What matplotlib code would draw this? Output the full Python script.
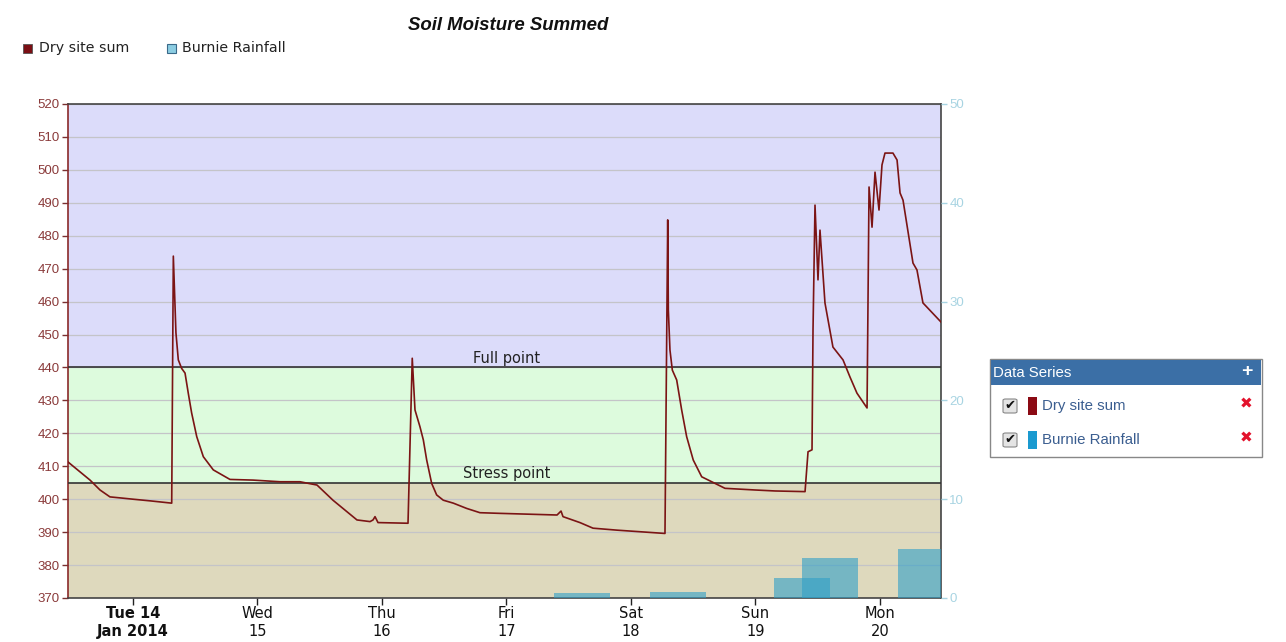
import matplotlib
matplotlib.use("Agg")
import matplotlib.pyplot as plt
from matplotlib.patches import Rectangle, FancyBboxPatch

plt.rcParams['font.family'] = ['Liberation Sans', 'DejaVu Sans']

# ---- data (time in days from Tue 14 Jan 2014 00:00) ----
moist_t = [-0.522, -0.345, -0.265, -0.185, -0.104, 0.000, 0.137, 0.311, 0.324, 0.345,
           0.364, 0.391, 0.418, 0.444, 0.471, 0.512, 0.565, 0.645, 0.779, 0.964,
           1.181, 1.341, 1.478, 1.606, 1.799, 1.904, 1.928, 1.944, 1.968, 2.209,
           2.243, 2.265, 2.305, 2.332, 2.359, 2.399, 2.439, 2.492, 2.573, 2.680,
           2.787, 2.948, 3.406, 3.438, 3.454, 3.590, 3.695, 3.888, 4.273, 4.295,
           4.300, 4.313, 4.332, 4.367, 4.407, 4.447, 4.500, 4.568, 4.675, 4.755,
           4.996, 5.157, 5.398, 5.422, 5.454, 5.462, 5.478, 5.502, 5.518, 5.558,
           5.622, 5.703, 5.759, 5.815, 5.896, 5.912, 5.936, 5.960, 5.992, 6.016,
           6.040, 6.104, 6.137, 6.161, 6.185, 6.265, 6.297, 6.345, 6.490]
moist_v = [411.3, 405.8, 402.8, 400.7, 400.4, 400.0, 399.5, 398.8, 473.8, 450.5,
           442.3, 439.7, 438.3, 432.2, 426.2, 419.0, 412.9, 408.9, 406.0, 405.8,
           405.3, 405.3, 404.3, 399.7, 393.7, 393.2, 393.7, 394.7, 392.9, 392.7,
           442.8, 427.1, 422.0, 418.0, 411.9, 404.8, 401.3, 399.7, 398.8, 397.2,
           395.9, 395.7, 395.2, 396.4, 394.7, 392.9, 391.2, 390.6, 389.6, 484.8,
           457.4, 445.3, 439.2, 436.2, 427.1, 419.0, 411.9, 406.8, 404.8, 403.3,
           402.8, 402.5, 402.3, 414.4, 415.0, 451.4, 489.3, 466.6, 481.7, 459.6,
           446.2, 442.3, 437.1, 432.2, 427.7, 494.8, 482.6, 499.3, 487.8, 501.5,
           505.1, 505.1, 503.0, 493.0, 490.8, 471.7, 469.6, 459.6, 453.8]

rain_t = [3.61, 4.38, 5.37, 5.60, 6.37]
rain_v = [0.5, 0.6, 2.0, 4.0, 5.0]

tick_days = [0, 1, 2, 3, 4, 5, 6]
tick_labels = ["Tue 14\nJan 2014", "Wed\n15", "Thu\n16", "Fri\n17", "Sat\n18", "Sun\n19", "Mon\n20"]

full_point = 440
stress_point = 405

W, H = 1286, 642
fig = plt.figure(figsize=(W / 100, H / 100), dpi=100)
fig.patch.set_facecolor('white')

def fx(px):
    return px / W

def fy(py):
    return 1 - py / H

ax = fig.add_axes([fx(68), fy(598), fx(941) - fx(68), fy(104) - fy(598)])
ax.set_xlim(-0.522, 6.49)
ax.set_ylim(370, 520)

# background bands
ax.axhspan(full_point, 520, color='#dcdcfa', zorder=0, lw=0)
ax.axhspan(stress_point, full_point, color='#ddfbdd', zorder=0, lw=0)
ax.axhspan(370, stress_point, color='#ded9bd', zorder=0, lw=0)

ax.set_yticks(range(370, 521, 10))
ax.grid(axis='y', color='#c4c4c8', lw=0.9, zorder=1)
ax.set_axisbelow(True)

ax.axhline(full_point, color='#333333', lw=1.2, zorder=3)
ax.axhline(stress_point, color='#333333', lw=1.2, zorder=3)
ax.text(3.0, full_point + 0.5, "Full point", ha='center', va='bottom', fontsize=10.5,
        family='DejaVu Sans', color='#222222', zorder=4)
ax.text(3.0, stress_point + 0.5, "Stress point", ha='center', va='bottom', fontsize=10.5,
        family='DejaVu Sans', color='#222222', zorder=4)

ax.plot(moist_t, moist_v, color='#7b1414', lw=1.2, zorder=5)

ax.set_xticks(tick_days)
ax.set_xticklabels(tick_labels, fontsize=10.5, color='#111111', linespacing=1.2,
                   family='DejaVu Sans')
ax.get_xticklabels()[0].set_fontweight('bold')
ax.tick_params(axis='x', length=5, width=1, color='#222222', pad=1)
ax.tick_params(axis='y', length=4, width=1, color='#7a3030', labelcolor='#8a3a3a', labelsize=9.5, pad=2)

for s in ['top', 'bottom', 'right']:
    ax.spines[s].set_color('#444444')
    ax.spines[s].set_linewidth(1.2)
ax.spines['left'].set_color('#8a2a2a')
ax.spines['left'].set_linewidth(1.2)

ax2 = ax.twinx()
ax2.set_ylim(0, 50)
ax2.set_yticks(range(0, 51, 10))
ax2.bar(rain_t, rain_v, width=0.45, color='#2f9fc8', alpha=0.6, zorder=2, linewidth=0)
ax2.tick_params(axis='y', length=4, width=1, color='#a8d4e2', labelcolor='#a8d4e2', labelsize=9.5, pad=2)
for s in ['top', 'bottom', 'left', 'right']:
    ax2.spines[s].set_visible(False)

# title
fig.text(fx(508), fy(25), "Soil Moisture Summed", ha='center', va='center',
         fontsize=13.4, fontweight='bold', fontstyle='italic', color='#111111')

# top legend
fig.add_artist(Rectangle((fx(23), fy(53)), 9 / W, 9 / H, transform=fig.transFigure,
                         facecolor='#7a0f14', edgecolor='#555555', lw=0.6))
fig.text(fx(39), fy(48), "Dry site sum", ha='left', va='center', fontsize=10.2,
         family='DejaVu Sans', color='#222222')
fig.add_artist(Rectangle((fx(167), fy(53)), 9 / W, 9 / H, transform=fig.transFigure,
                         facecolor='#8ccde2', edgecolor='#3a6a8a', lw=0.8))
fig.text(fx(182), fy(48), "Burnie Rainfall", ha='left', va='center', fontsize=10.2,
         family='DejaVu Sans', color='#222222')

# Data Series panel
fig.add_artist(Rectangle((fx(990), fy(457)), (1262 - 990) / W, (457 - 359) / H,
                         transform=fig.transFigure, facecolor='white', edgecolor='#888888', lw=1))
fig.add_artist(Rectangle((fx(991), fy(385)), (1261 - 991) / W, (385 - 360) / H,
                         transform=fig.transFigure, facecolor='#3b6fa6', edgecolor='none'))
fig.text(fx(993), fy(373), "Data Series", ha='left', va='center', fontsize=10.8, color='white')
fig.text(fx(1247), fy(372), "+", ha='center', va='center', fontsize=14, fontweight='bold', color='white')

rows = [("Dry site sum", '#8b0a14', 406), ("Burnie Rainfall", '#1a9ad0', 440)]
for label, col, y in rows:
    fig.add_artist(FancyBboxPatch((fx(1003), fy(y + 7)), 14 / W, 14 / H,
                                  boxstyle="round,pad=0.0,rounding_size=0.002",
                                  transform=fig.transFigure, facecolor='#e4e4e4', edgecolor='#888888', lw=0.8))
    fig.text(fx(1010.5), fy(y - 1), "\u2714", ha='center', va='center', fontsize=9.5,
             family='DejaVu Sans', color='#111111')
    fig.add_artist(Rectangle((fx(1028), fy(y + 9)), 9 / W, 18 / H, transform=fig.transFigure,
                             facecolor=col, edgecolor='none'))
    fig.text(fx(1042), fy(y), label, ha='left', va='center', fontsize=10.8, color='#3b5e90')
    fig.text(fx(1246), fy(y - 2), "\u2716", ha='center', va='center', fontsize=11,
             family='DejaVu Sans', color='#e3122c')

fig.savefig("out.png", dpi=100)
